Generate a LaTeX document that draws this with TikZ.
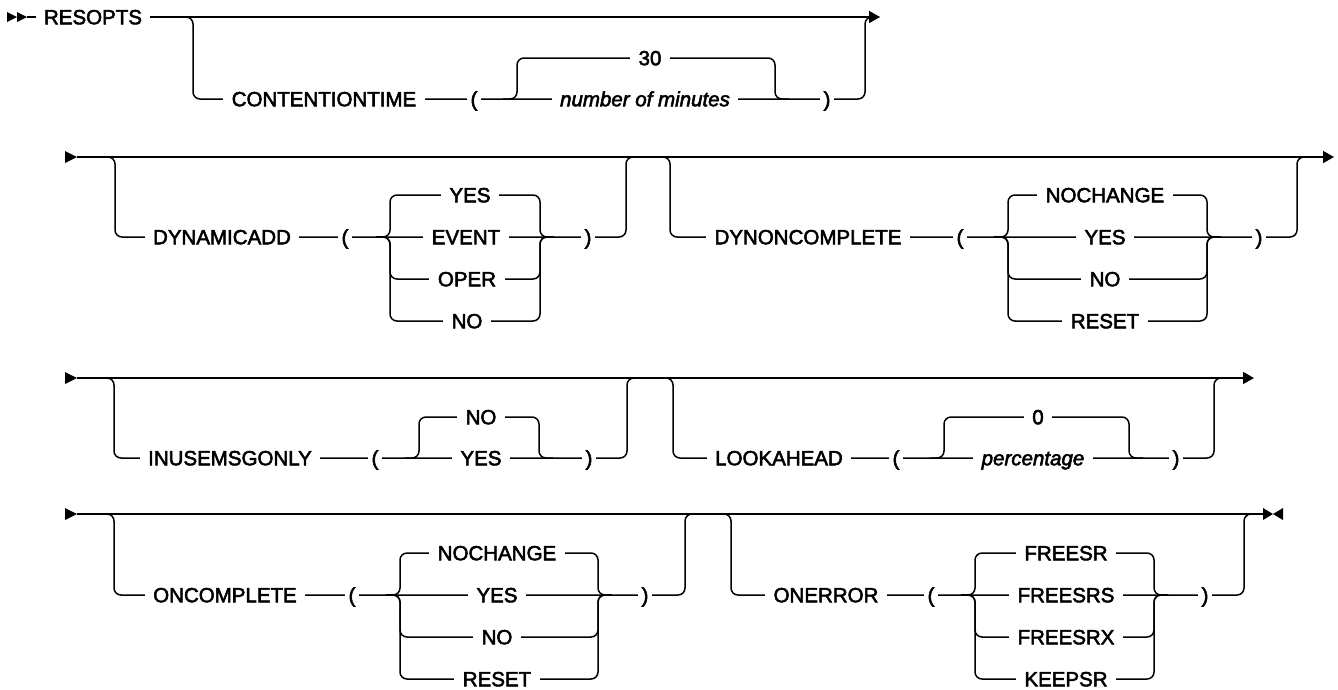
\documentclass[tikz,border=0pt]{standalone}
\usepackage{fontspec}
\newfontfamily\railfont{Liberation Sans}[FakeBold=2.6]
\usetikzlibrary{arrows.meta}

\begin{document}
\begin{tikzpicture}[x=1pt,y=-1pt,line width=1.5pt,
  track/.style={rounded corners=7pt},
  word/.style={fill=white,inner xsep=8.5pt,inner ysep=0pt,text height=14.5pt,text depth=0pt,
               font=\railfont\fontsize{20.5}{21}\selectfont},
  varword/.style={word,font=\railfont\fontsize{20.5}{21}\selectfont\itshape},
  paren/.style={word,inner xsep=4pt},
  contd/.style={-{Triangle[length=11pt,width=12pt]}}]
\useasboundingbox (0,0) rectangle (1338,689);
% ---- main lines ----
\draw[contd] (27,17) -- (880,17);
\draw[contd] (77,157) -- (1334,157);
\draw[contd] (77,378) -- (1254,378);
\draw (77,514) -- (1263,514);
% ---- start / continue / end marks ----
\fill (7,12) -- (17,17) -- (7,22) -- cycle;
\fill (17,12) -- (27,17) -- (17,22) -- cycle;
\foreach \y in {157,378,514} \fill (65,\y-6) -- (77,\y) -- (65,\y+6) -- cycle;
\fill (1263,508) -- (1273,514) -- (1263,520) -- cycle;
\fill (1283,508) -- (1273,514) -- (1283,520) -- cycle;
% ---- optional keyword loops: down at a, up at b ----
\foreach \a/\b/\m/\s in {193/865/17/99, 115/626/157/237, 670/1297/157/237,
  114/627/378/458, 673/1214/378/458, 114/685/514/595, 731/1244/514/595}
  \draw[track] (\a-14,\m) -- (\a,\m) -- (\a,\s) -- (\b,\s) -- (\b,\m) -- (\b+14,\m);
% ---- value choices ----
\foreach \l/\r/\t/\b in {517/775/99/58,
  390/540/237/195, 390/540/237/279, 390/540/237/321,
  1008/1207/237/195, 1008/1207/237/279, 1008/1207/237/321,
  419/539/458/417, 944/1129/458/417,
  400/598/595/553, 400/598/595/637, 400/598/595/679,
  975/1154/595/553, 975/1154/595/637, 975/1154/595/679}
  \draw[track] (\l-14,\t) -- (\l,\t) -- (\l,\b) -- (\r,\b) -- (\r,\t) -- (\r+14,\t);
% ---- keywords ----
\foreach \n/\x/\y/\s in {resopts/93/17/RESOPTS, contime/324/99/CONTENTIONTIME,
  dynadd/222/237/DYNAMICADD, dyncomp/808/237/DYNONCOMPLETE,
  inuse/230/458/INUSEMSGONLY, lookah/779/458/LOOKAHEAD,
  oncomp/225/595/ONCOMPLETE, onerr/826/595/ONERROR}
  \node[word] (\n) at (\x,\y) {\s};
% ---- parentheses ----
\foreach \x/\y [count=\i] in {474/99, 345/237, 960/237, 375/458, 896/458, 352/595, 931/595}
  \node[paren] (lp\i) at (\x,\y) {(};
\foreach \x/\y [count=\i] in {827/99, 588/237, 1259/237, 589/458, 1176/458, 645/595, 1205/595}
  \node[paren] (rp\i) at (\x,\y) {)};
% ---- values ----
\foreach \n/\x/\y/\s in {min30/650/58/30,
  addyes/470/195/YES, addevent/466/237/EVENT, addoper/467/279/OPER, addno/467/321/NO,
  dcnochg/1105/195/NOCHANGE, dcyes/1105/237/YES, dcno/1105/279/NO, dcreset/1105/321/RESET,
  inno/481/417/NO, inyes/481/458/YES, pct0/1038/417/0,
  ocnochg/497/553/NOCHANGE, ocyes/497/595/YES, ocno/497/637/NO, ocreset/497/679/RESET,
  oefree/1066/553/FREESR, oefrees/1066/595/FREESRS, oefreex/1066/637/FREESRX, oekeep/1066/679/KEEPSR}
  \node[word] (\n) at (\x,\y) {\s};
\node[varword] (minutes) at (645,99) {number of minutes};
\node[varword] (pct) at (1033,458) {percentage};
\end{tikzpicture}
\end{document}
